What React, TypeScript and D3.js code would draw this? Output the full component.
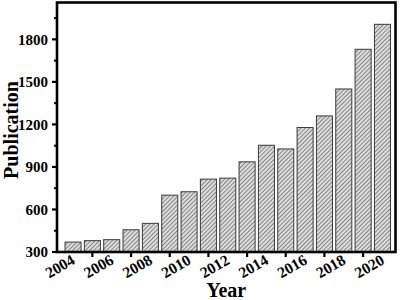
import React, { useEffect, useRef } from 'react';
import * as d3 from 'd3';

// publications per year
const years = [2004, 2005, 2006, 2007, 2008, 2009, 2010, 2011, 2012, 2013, 2014, 2015, 2016, 2017, 2018, 2019, 2020];
const publications = [370, 380, 387, 457, 502, 701, 725, 814, 821, 936, 1053, 1027, 1178, 1260, 1450, 1730, 1906];
const yMajorTicks = [300, 600, 900, 1200, 1500, 1800];
const yMinorTicks = [450, 750, 1050, 1350, 1650, 1950];
const xLabelYears = [2004, 2006, 2008, 2010, 2012, 2014, 2016, 2018, 2020];
const xTickYears = [2005, 2007, 2009, 2011, 2013, 2015, 2017, 2019];

const W = 400, H = 300;
const margin = { top: 2.5, right: 4.5, bottom: 48, left: 57 };
const FONT = '"Liberation Serif", "Times New Roman", serif';

export default function App() {
    const ref = useRef<SVGSVGElement>(null);

    useEffect(() => {
        if (!ref.current) return;
        const svg = d3.select(ref.current);
        svg.selectAll('*').remove();

        const x0 = margin.left, x1 = W - margin.right;
        const y0 = H - margin.bottom, y1 = margin.top;

        const x = d3.scaleBand<number>()
            .domain(years)
            .range([x0, x1])
            .paddingInner(0.17)
            .paddingOuter(0.337)
            .align(0.615);

        const y = d3.scaleLinear()
            .domain([300, 2060])
            .range([y0, y1]);

        // hatch fill like the original
        const defs = svg.append('defs');
        const pat = defs.append('pattern')
            .attr('id', 'hatch')
            .attr('patternUnits', 'userSpaceOnUse')
            .attr('width', 3)
            .attr('height', 3)
            .attr('patternTransform', 'rotate(45)');
        pat.append('rect').attr('width', 3).attr('height', 3).attr('fill', '#dcdcdc');
        pat.append('line')
            .attr('x1', 0).attr('y1', 0).attr('x2', 0).attr('y2', 3)
            .attr('stroke', '#5a5a5a').attr('stroke-width', 1.3);

        // bars
        svg.append('g')
            .selectAll('rect')
            .data(years)
            .join('rect')
            .attr('x', d => x(d)!)
            .attr('y', (d, i) => y(publications[i]))
            .attr('width', x.bandwidth())
            .attr('height', (d, i) => y(300) - y(publications[i]))
            .attr('fill', 'url(#hatch)')
            .attr('stroke', '#3a3a3a')
            .attr('stroke-width', 1);

        // frame
        svg.append('rect')
            .attr('x', x0).attr('y', y1)
            .attr('width', x1 - x0).attr('height', y0 - y1)
            .attr('fill', 'none')
            .attr('stroke', '#000')
            .attr('stroke-width', 2.6);

        // y ticks
        const yAx = svg.append('g');
        yAx.selectAll('line.major')
            .data(yMajorTicks)
            .join('line')
            .attr('class', 'major')
            .attr('x1', x0 - 5).attr('x2', x0)
            .attr('y1', d => y(d)).attr('y2', d => y(d))
            .attr('stroke', '#000').attr('stroke-width', 2.2);
        yAx.selectAll('line.minor')
            .data(yMinorTicks)
            .join('line')
            .attr('class', 'minor')
            .attr('x1', x0 - 3).attr('x2', x0)
            .attr('y1', d => y(d)).attr('y2', d => y(d))
            .attr('stroke', '#000').attr('stroke-width', 2);
        yAx.selectAll('text')
            .data(yMajorTicks)
            .join('text')
            .attr('x', x0 - 9)
            .attr('y', d => y(d))
            .attr('dy', '0.35em')
            .attr('text-anchor', 'end')
            .style('font-family', FONT)
            .style('font-weight', 'bold')
            .style('font-size', '15px')
            .text(d => String(d));

        // x ticks (odd years) and rotated labels (even years)
        const xAx = svg.append('g');
        xAx.selectAll('line')
            .data(xTickYears)
            .join('line')
            .attr('x1', d => x(d)! + x.bandwidth() / 2)
            .attr('x2', d => x(d)! + x.bandwidth() / 2)
            .attr('y1', y0).attr('y2', y0 + 5)
            .attr('stroke', '#000').attr('stroke-width', 2.2);
        xAx.selectAll('text')
            .data(xLabelYears)
            .join('text')
            .attr('transform', d => 'translate(' + (x(d)! + x.bandwidth() / 2 + 3) + ',' + (y0 + 11) + ') rotate(-30)')
            .attr('text-anchor', 'end')
            .style('font-family', FONT)
            .style('font-weight', 'bold')
            .style('font-size', '15.5px')
            .text(d => String(d));

        // axis titles
        svg.append('text')
            .attr('x', (x0 + x1) / 2 + 0)
            .attr('y', 297)
            .attr('text-anchor', 'middle')
            .style('font-family', FONT)
            .style('font-weight', 'bold')
            .style('font-size', '20px')
            .text('Year');
        svg.append('text')
            .attr('transform', 'translate(17.5,130) rotate(-90)')
            .attr('text-anchor', 'middle')
            .style('font-family', FONT)
            .style('font-weight', 'bold')
            .style('font-size', '20px')
            .text('Publication');
    });

    return (
        <svg ref={ref} width={W} height={H}
            style={{ position: 'absolute', left: 0, top: 0, background: '#fff' }} />
    );
}
